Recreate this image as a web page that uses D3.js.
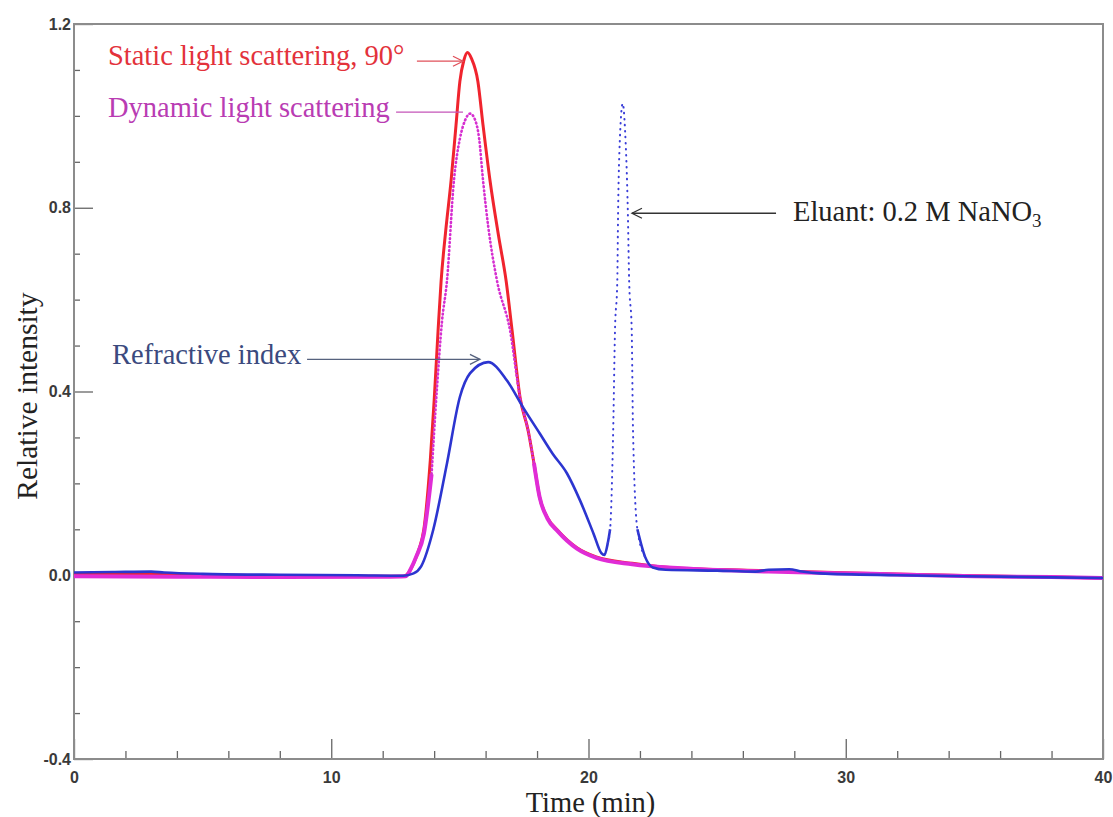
<!DOCTYPE html>
<html>
<head>
<meta charset="utf-8">
<script src="https://cdn.jsdelivr.net/npm/d3@7"></script>
<style>
  body { margin: 0; background: #fff; }
  svg { display: block; }
</style>
</head>
<body>
<div id="chart"></div>
<script>
// ---- data: [time (min), relative intensity] ----
const slsData = [
  [0, 0.003], [3, 0.002], [6, 0.0], [9, -0.001], [12, -0.002], [12.8, -0.002],
  [13.0, 0.005], [13.2, 0.026], [13.4, 0.055], [13.6, 0.1], [13.85, 0.25],
  [14.0, 0.38], [14.15, 0.53], [14.27, 0.64], [14.45, 0.75], [14.66, 0.86],
  [14.85, 0.98], [15.0, 1.075], [15.15, 1.12], [15.3, 1.138], [15.45, 1.125],
  [15.7, 1.075], [15.9, 0.98], [16.17, 0.86], [16.5, 0.74], [16.8, 0.64],
  [17.03, 0.533], [17.34, 0.387], [17.65, 0.316], [17.88, 0.244], [18.1, 0.17],
  [18.4, 0.126], [18.8, 0.098], [19.55, 0.06], [20.3, 0.04], [21.7, 0.026],
  [23.6, 0.015], [27, 0.01], [31, 0.004], [35, -0.001], [38, -0.004], [40, -0.006]
];

const dlsData = [
  [0, -0.002], [4, -0.003], [8, -0.004], [12, -0.003], [12.9, -0.002],
  [13.1, 0.015], [13.3, 0.04], [13.6, 0.09], [13.9, 0.22], [14.1, 0.4],
  [14.3, 0.55], [14.5, 0.642], [14.77, 0.86], [15.0, 0.95], [15.2, 0.99],
  [15.4, 1.005], [15.6, 0.99], [15.75, 0.95], [15.9, 0.86], [16.1, 0.76],
  [16.44, 0.642], [16.95, 0.533], [17.34, 0.387], [17.65, 0.316], [17.88, 0.244],
  [18.1, 0.17], [18.4, 0.124], [18.8, 0.096], [19.55, 0.058], [20.3, 0.038],
  [21.7, 0.024], [23.6, 0.015], [27, 0.008], [31, 0.003], [35, -0.002],
  [38, -0.004], [40, -0.006]
];

const riData = [
  [0, 0.006], [1.5, 0.007], [3, 0.008], [3.5, 0.006], [5, 0.003], [8, 0.001],
  [11, 0.0], [12.8, -0.001], [13.2, 0.004], [13.5, 0.02], [13.96, 0.098],
  [14.5, 0.244], [15.0, 0.388], [15.4, 0.44], [16.1, 0.464], [16.83, 0.424],
  [17.45, 0.366], [18.1, 0.309], [18.6, 0.265], [19.16, 0.222], [19.67, 0.163],
  [20.2, 0.09], [20.5, 0.048], [20.62, 0.044], [20.75, 0.07], [20.84, 0.1],
  [20.96, 0.316], [21.03, 0.533], [21.12, 0.642], [21.15, 0.788], [21.22, 0.95],
  [21.33, 1.027], [21.42, 0.97], [21.53, 0.788], [21.58, 0.642], [21.68, 0.533],
  [21.73, 0.316], [21.9, 0.1], [22.2, 0.04], [22.5, 0.017], [23, 0.012],
  [25, 0.01], [26.5, 0.008], [27, 0.012], [27.8, 0.013], [28.3, 0.008],
  [29, 0.004], [32, 0.0], [36, -0.003], [40, -0.006]
];

const xMajor = [0, 10, 20, 30, 40];
const xMinor = [2, 4, 6, 8, 12, 14, 16, 18, 22, 24, 26, 28, 32, 34, 36, 38];
const yMajor = [-0.4, 0.0, 0.4, 0.8, 1.2];
const yMinor = [-0.3, -0.2, -0.1, 0.1, 0.2, 0.3, 0.5, 0.6, 0.7, 0.9, 1.0, 1.1];

// annotations in data units: text anchor + arrow from x1 to x2 at height ay
const notes = [
  {label: "Static light scattering, 90°", tx: 1.32, ty: 1.11, x1: 13.33, x2: 15.12, ay: 1.119, head: true, color: "#e3323b", arrow: "#e0505a"},
  {label: "Dynamic light scattering", tx: 1.32, ty: 0.997, x1: 12.52, x2: 15.12, ay: 1.008, head: false, color: "#b93cb3", arrow: "#c455b8"},
  {label: "Refractive index", tx: 1.48, ty: 0.459, x1: 9.06, x2: 15.78, ay: 0.470, head: true, color: "#3b4a7e", arrow: "#56627e"},
  {label: "Eluant: 0.2 M NaNO", sub: "3", tx: 27.95, ty: 0.772, x1: 27.29, x2: 21.69, ay: 0.788, head: true, color: "#222", arrow: "#333"}
];

const width = 1113, height = 817;
const x = d3.scaleLinear().domain([0, 40]).range([74, 1103]);
const y = d3.scaleLinear().domain([-0.4, 1.2]).range([759, 24]);

const svg = d3.select("#chart").append("svg")
    .attr("width", width)
    .attr("height", height);

// ticks
const tickFont = g => g
    .call(g => g.select(".domain").remove())
    .call(g => g.selectAll(".tick line").attr("stroke", "#666").attr("stroke-width", 1.3))
    .call(g => g.selectAll(".tick text")
        .attr("fill", "#3a3a3a")
        .style("font-family", "'Liberation Sans', Arial, sans-serif")
        .style("font-size", "16px")
        .style("font-weight", "bold"));

svg.append("g")
    .attr("transform", `translate(${x(0)},0)`)
    .call(d3.axisLeft(y).tickValues(yMinor).tickSize(-6).tickFormat(""))
    .call(tickFont);
svg.append("g")
    .attr("transform", `translate(${x(0)},0)`)
    .call(d3.axisLeft(y).tickValues(yMajor).tickSize(-19).tickPadding(3).tickFormat(d => d.toFixed(1)))
    .call(tickFont);
svg.append("g")
    .attr("transform", `translate(0,${y(-0.4)})`)
    .call(d3.axisBottom(x).tickValues(xMinor).tickSize(-8).tickFormat(""))
    .call(tickFont);
svg.append("g")
    .attr("transform", `translate(0,${y(-0.4)})`)
    .call(d3.axisBottom(x).tickValues(xMajor).tickSize(-20).tickPadding(13).tickFormat(d3.format("d")))
    .call(tickFont);

// frame
svg.append("rect")
    .attr("x", x(0)).attr("y", y(1.2))
    .attr("width", x(40) - x(0)).attr("height", y(-0.4) - y(1.2))
    .attr("fill", "none")
    .attr("stroke", "#8c8c8c")
    .attr("stroke-width", 2);

// curves
const line = d3.line()
    .x(d => x(d[0]))
    .y(d => y(d[1]))
    .curve(d3.curveMonotoneX);

svg.append("path")
    .datum(slsData)
    .attr("d", line)
    .attr("fill", "none")
    .attr("stroke", "#f0242e")
    .attr("stroke-width", 3);

// DLS: dense (solid-looking) near the baseline, dotted over the peak
svg.append("path")
    .datum(dlsData)
    .attr("d", line.defined(d => d[1] < 0.3))
    .attr("fill", "none")
    .attr("stroke", "#e02cd6")
    .attr("stroke-width", 4);
svg.append("path")
    .datum(dlsData)
    .attr("d", line.defined(d => d[1] > 0.2))
    .attr("fill", "none")
    .attr("stroke", "#d62fd0")
    .attr("stroke-width", 2.6)
    .attr("stroke-linecap", "round")
    .attr("stroke-dasharray", "0.8 3.2");
line.defined(() => true);

// RI: solid except the sparse eluant peak, which shows as dots
svg.append("path")
    .datum(riData)
    .attr("d", line.defined(d => d[0] <= 20.84 || d[0] >= 21.9))
    .attr("fill", "none")
    .attr("stroke", "#2c35d0")
    .attr("stroke-width", 2.6);
svg.append("path")
    .datum(riData.filter(d => d[0] >= 20.75 && d[0] <= 22.2))
    .attr("d", line.defined(() => true))
    .attr("fill", "none")
    .attr("stroke", "#3a3ed8")
    .attr("stroke-width", 2)
    .attr("stroke-linecap", "round")
    .attr("stroke-dasharray", "0.5 5.5");

// annotations
const ann = svg.append("g")
    .attr("font-family", "'Liberation Serif', 'Times New Roman', serif")
    .attr("font-size", 28.5);

notes.forEach(n => {
    const ay = y(n.ay), x1 = x(n.x1), x2 = x(n.x2);
    ann.append("line")
        .attr("x1", x1).attr("y1", ay)
        .attr("x2", x2).attr("y2", ay)
        .attr("stroke", n.arrow)
        .attr("stroke-width", 1.3);
    if (n.head) {
        const dir = x2 > x1 ? -1 : 1;
        ann.append("path")
            .attr("d", `M${x2 + dir * 10},${ay - 5}L${x2},${ay}L${x2 + dir * 10},${ay + 5}`)
            .attr("fill", "none")
            .attr("stroke", n.arrow)
            .attr("stroke-width", 1.3);
    }
    const t = ann.append("text")
        .attr("x", x(n.tx))
        .attr("y", y(n.ty))
        .attr("fill", n.color)
        .text(n.label);
    if (n.sub) {
        t.append("tspan")
            .attr("font-size", 19)
            .attr("dy", 6)
            .text(n.sub);
    }
});

// axis titles
svg.append("text")
    .attr("x", (x(0) + x(40)) / 2 + 2)
    .attr("y", 812)
    .attr("text-anchor", "middle")
    .attr("font-family", "'Liberation Serif', 'Times New Roman', serif")
    .attr("font-size", 28.5)
    .attr("fill", "#222")
    .text("Time (min)");

svg.append("text")
    .attr("transform", `translate(37,${y(0.39)}) rotate(-90)`)
    .attr("text-anchor", "middle")
    .attr("font-family", "'Liberation Serif', 'Times New Roman', serif")
    .attr("font-size", 29.5)
    .attr("fill", "#222")
    .text("Relative intensity");
</script>
</body>
</html>
